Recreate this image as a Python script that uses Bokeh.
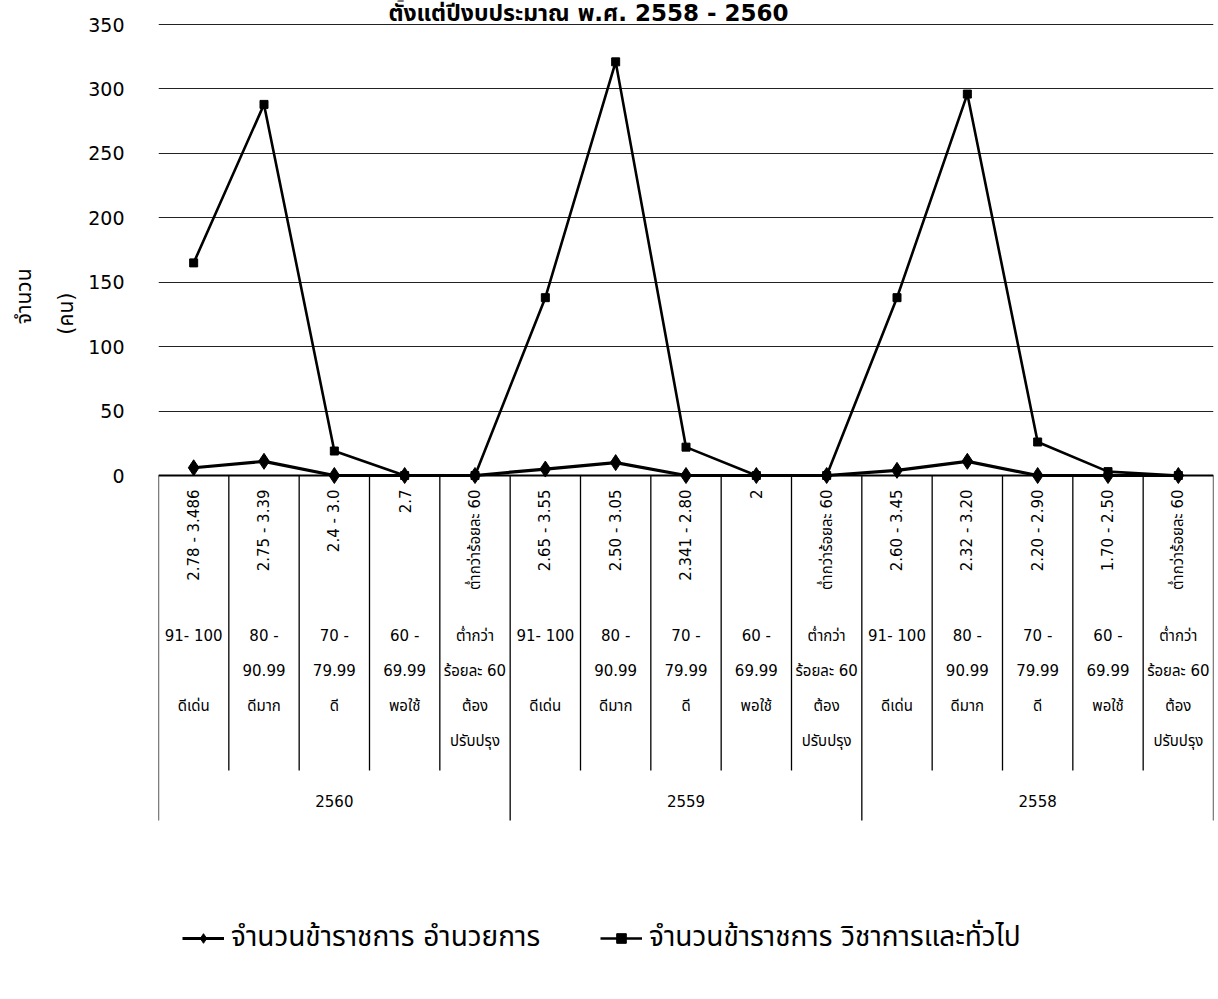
import math

from bokeh.core.properties import value
from bokeh.embed import file_html
from bokeh.models import (ColumnDataSource, FixedTicker, Label, Legend,
                          LegendItem, Range1d, Title)
from bokeh.plotting import figure
from bokeh.resources import INLINE

# ---------------------------------------------------------------- data
years = ["2560", "2559", "2558"]

# salary-raise ranges (per cent) for each assessment band, per year
raise_ranges = [
    "2.78 - 3.486", "2.75 - 3.39", "2.4 - 3.0", "2.7", "ต่ำกว่าร้อยละ 60",
    "2.65 - 3.55", "2.50 - 3.05", "2.341 - 2.80", "2", "ต่ำกว่าร้อยละ 60",
    "2.60 - 3.45", "2.32 - 3.20", "2.20 - 2.90", "1.70 - 2.50", "ต่ำกว่าร้อยละ 60",
]

# score bands and grades (repeated for each year)
score_bands = ["91- 100", "80 -\n90.99", "70 -\n79.99", "60 -\n69.99", "ต่ำกว่า\nร้อยละ 60"]
grades = ["ดีเด่น", "ดีมาก", "ดี", "พอใช้", "ต้อง\nปรับปรุง"]

series_names = ["จำนวนข้าราชการ อำนวยการ", "จำนวนข้าราชการ วิชาการและทั่วไป"]
executives = [6, 11, 0, 0, 0, 5, 10, 0, 0, 0, 4, 11, 0, 0, 0]
academic_general = [165, 288, 19, 0, 0, 138, 321, 22, 0, 0, 138, 296, 26, 3, 0]

y_ticks = [0, 50, 100, 150, 200, 250, 300, 350]

title_text = "ตั้งแต่ปีงบประมาณ พ.ศ. 2558 - 2560"
y_label_lines = ["จำนวน", "(คน)"]

# ---------------------------------------------------------------- geometry
W, H = 1218, 999
LEFT, RIGHT = 158, 5
ZERO_PX, TOP_TICK_PX = 475, 24          # canvas rows of 0 and 350
PX_PER_UNIT = (ZERO_PX - TOP_TICK_PX) / 350.0
N = len(raise_ranges)
X_PER_PX = N / (W - LEFT - RIGHT)


def row(px):
    """Canvas row (pixels from top) -> y value."""
    return (ZERO_PX - px) / PX_PER_UNIT


def col(px):
    """Canvas column (pixels from left) -> x value."""
    return (px - LEFT) * X_PER_PX


FONT = "'DejaVu Sans', Tahoma, 'Noto Sans Thai', 'Noto Sans', sans-serif"

p = figure(
    width=W, height=H, output_backend="svg", toolbar_location=None,
    x_range=Range1d(0, N), y_range=Range1d(row(H), row(0)),
    x_axis_location=None, title=None,
    min_border_left=LEFT, min_border_right=RIGHT,
    min_border_top=0, min_border_bottom=0,
)
p.outline_line_color = None
p.background_fill_color = "white"
p.border_fill_color = "white"

# y axis: labels only
ticker = FixedTicker(ticks=y_ticks)
p.yaxis.ticker = ticker
p.yaxis.axis_line_color = None
p.yaxis.major_tick_line_color = None
p.yaxis.minor_tick_line_color = None
p.yaxis.major_label_text_font = FONT
p.yaxis.major_label_text_font_size = "19px"
p.yaxis.major_label_text_color = "black"
p.yaxis.major_label_standoff = 28

# y axis caption, two rotated lines to the left of the tick labels
# (inner line first, nearest the axis)
for line, standoff, offset in ((y_label_lines[1], 15, 292),
                               (y_label_lines[0], 18, 268)):
    p.add_layout(Title(text=line, align="right", offset=offset, standoff=standoff,
                       text_font=FONT, text_font_size="21px",
                       text_font_style="normal", text_color="black"), "left")

p.xgrid.visible = False
p.ygrid.ticker = ticker
p.ygrid.grid_line_color = "#222222"
p.ygrid.grid_line_width = 1

# ---------------------------------------------------------------- category table
centers = [i + 0.5 for i in range(N)]
bounds = list(range(N + 1))
inner = [b for b in bounds if b % 5 != 0]
outer = [b for b in bounds if b % 5 == 0]

p.segment(x0=inner, y0=[0] * len(inner), x1=inner, y1=[row(770)] * len(inner),
          line_color="black", line_width=1.3)
p.segment(x0=outer, y0=[0] * len(outer), x1=outer, y1=[row(820)] * len(outer),
          line_color="black", line_width=1.3)
p.segment(x0=[0], y0=[0], x1=[N], y1=[0], line_color="black", line_width=1.8)

p.text(x=centers, y=[row(489)] * N, text=raise_ranges, angle=math.pi / 2,
       text_align="right", text_baseline="middle",
       text_font=value(FONT), text_font_size="15px", text_color="black")

band_src = ColumnDataSource(dict(x=centers, band=score_bands * 3, grade=grades * 3))
p.text(x="x", y=row(626), text="band", source=band_src,
       text_align="center", text_baseline="top", text_line_height=1.97,
       text_font=value(FONT), text_font_size="15px", text_color="black")
p.text(x="x", y=row(696), text="grade", source=band_src,
       text_align="center", text_baseline="top", text_line_height=1.97,
       text_font=value(FONT), text_font_size="15px", text_color="black")

p.text(x=[2.5 + 5 * i for i in range(len(years))], y=[row(800)] * len(years),
       text=years, text_align="center", text_baseline="middle",
       text_font=value(FONT), text_font_size="15px", text_color="black")

# ---------------------------------------------------------------- series
l1 = p.line(centers, executives, line_color="black", line_width=3.2)
m1 = p.scatter(centers, executives, marker="diamond", size=16,
               fill_color="black", line_color="black")
l2 = p.line(centers, academic_general, line_color="black", line_width=2.6)
m2 = p.scatter(centers, academic_general, marker="square", size=8,
               fill_color="black", line_color="black")

legend = Legend(
    items=[LegendItem(label=series_names[0], renderers=[l1, m1]),
           LegendItem(label=series_names[1], renderers=[l2, m2])],
    location=(24, 40), orientation="horizontal",
    border_line_color=None, background_fill_alpha=0,
    label_text_font=FONT, label_text_font_size="28px", label_text_color="black",
    glyph_width=42, glyph_height=24, label_standoff=7, spacing=60,
    padding=0, margin=0,
)
p.add_layout(legend)

# ---------------------------------------------------------------- heading
p.add_layout(Label(x=col(588), y=row(12), text=title_text,
                   text_align="center", text_baseline="alphabetic",
                   text_font=FONT, text_font_size="23px", text_font_style="bold",
                   text_color="black"))

open("out.html", "w").write(file_html(p, INLINE))
